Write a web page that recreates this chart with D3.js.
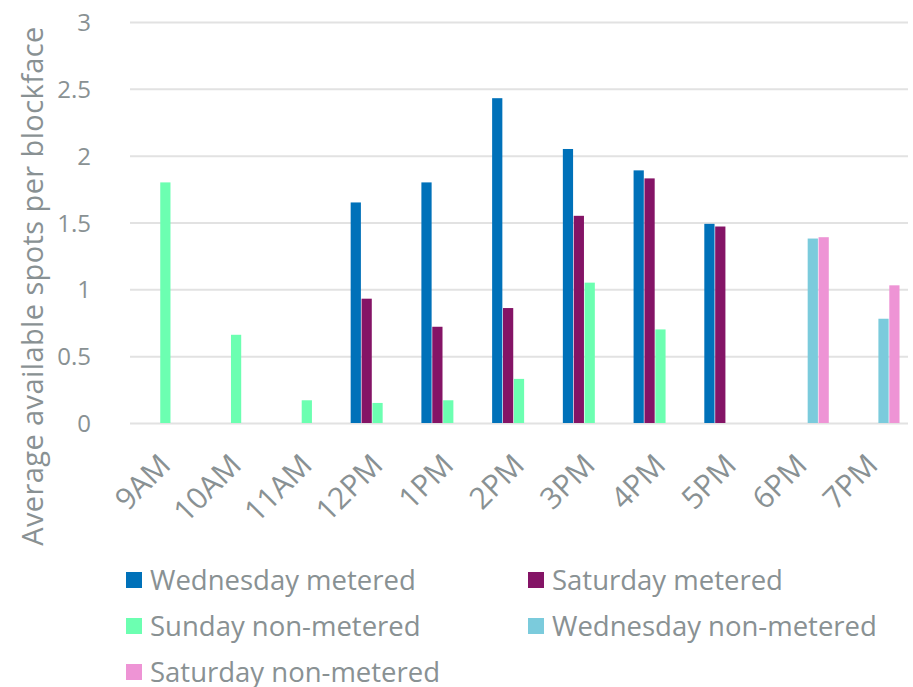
<!DOCTYPE html>
<html>
<head>
<meta charset="utf-8">
<script src="https://cdn.jsdelivr.net/npm/d3@7"></script>
<style>
  html, body { margin: 0; padding: 0; background: #fff; }
  svg { display: block; font-family: "Open Sans", sans-serif; }
</style>
</head>
<body>
<svg id="chart" width="913" height="687"></svg>
<script>
(function () {

    var hours = ["9AM", "10AM", "11AM", "12PM", "1PM", "2PM", "3PM", "4PM", "5PM", "6PM", "7PM"],
        seriesNames = ["Wednesday metered", "Saturday metered", "Sunday non-metered",
                       "Wednesday non-metered", "Saturday non-metered"],
        seriesColors = ["#0071b9", "#841466", "#6cffb1", "#7bcbdc", "#ee94d5"],
        yTicks = [0, 0.5, 1, 1.5, 2, 2.5, 3];

    var wedMetered    = [null, null, null, 1.65, 1.80, 2.43, 2.05, 1.89, 1.49, null, null],
        satMetered    = [null, null, null, 0.93, 0.72, 0.86, 1.55, 1.83, 1.47, null, null],
        sunNonMetered = [1.80, 0.66, 0.17, 0.15, 0.17, 0.33, 1.05, 0.70, null, null, null],
        wedNonMetered = [null, null, null, null, null, null, null, null, null, 1.38, 0.78],
        satNonMetered = [null, null, null, null, null, null, null, null, null, 1.39, 1.03];

    var seriesValues = [wedMetered, satMetered, sunNonMetered, wedNonMetered, satNonMetered];

    var svg = d3.select("#chart"),
        textColor = "#899193",
        left = 130, right = 908, top = 22, bottom = 423;

    var x0 = d3.scaleBand()
        .domain(hours)
        .range([left, right])
        .paddingInner(0.24)
        .paddingOuter(0.12);

    var x1 = d3.scaleBand()
        .domain(seriesNames)
        .range([0, x0.bandwidth()])
        .paddingInner(0.06);

    var y = d3.scaleLinear()
        .domain([0, 3])
        .range([bottom, top]);

    // gridlines + y labels
    var yAxis = svg.append("g")
        .attr("transform", "translate(" + left + ",0)")
        .call(d3.axisLeft(y).tickValues(yTicks).tickSize(-(right - left)).tickPadding(39)
            .tickFormat(d3.format("")));
    yAxis.select(".domain").remove();
    yAxis.selectAll(".tick line")
        .attr("stroke", "#e2e2e2")
        .attr("stroke-width", 2);
    yAxis.selectAll(".tick text")
        .attr("fill", textColor)
        .style("font-size", "24px")
        .style("font-family", "'Open Sans', sans-serif")
        .attr("dy", "0.36em");

    // bars
    var rows = [];
    seriesValues.forEach(function (vals, si) {
        vals.forEach(function (v, hi) {
            if (v !== null) rows.push({ hour: hours[hi], series: seriesNames[si], color: seriesColors[si], value: v });
        });
    });

    svg.append("g")
        .selectAll("rect")
        .data(rows)
        .join("rect")
            .attr("x", function (d) { return x0(d.hour) + x1(d.series); })
            .attr("y", function (d) { return y(d.value); })
            .attr("width", x1.bandwidth())
            .attr("height", function (d) { return y(0) - y(d.value); })
            .attr("fill", function (d) { return d.color; });

    // x labels, rotated
    svg.append("g")
        .selectAll("text")
        .data(hours)
        .join("text")
            .attr("transform", function (d) {
                return "translate(" + (x0(d) + x0.bandwidth() / 2 + 7) + ",467) rotate(-45)";
            })
            .attr("text-anchor", "end")
            .attr("fill", textColor)
            .style("font-size", "30px")
            .text(function (d) { return d; });

    // y axis title
    svg.append("text")
        .attr("transform", "translate(43,286) rotate(-90)")
        .attr("text-anchor", "middle")
        .attr("fill", textColor)
        .style("font-size", "29px")
        .style("letter-spacing", "0.4px")
        .text("Average available spots per blockface");

    // legend
    var legend = svg.append("g")
        .selectAll("g")
        .data(seriesNames)
        .join("g")
            .attr("transform", function (d, i) {
                return "translate(" + (i % 2 === 0 ? 126 : 528) + "," + (580 + Math.floor(i / 2) * 46) + ")";
            });

    legend.append("rect")
        .attr("x", 0)
        .attr("y", -8)
        .attr("width", 16)
        .attr("height", 16)
        .attr("fill", function (d, i) { return seriesColors[i]; });

    legend.append("text")
        .attr("x", 24)
        .attr("dy", "0.35em")
        .attr("fill", textColor)
        .style("font-size", "27.5px")
        .text(function (d) { return d; });

}());
</script>
</body>
</html>
